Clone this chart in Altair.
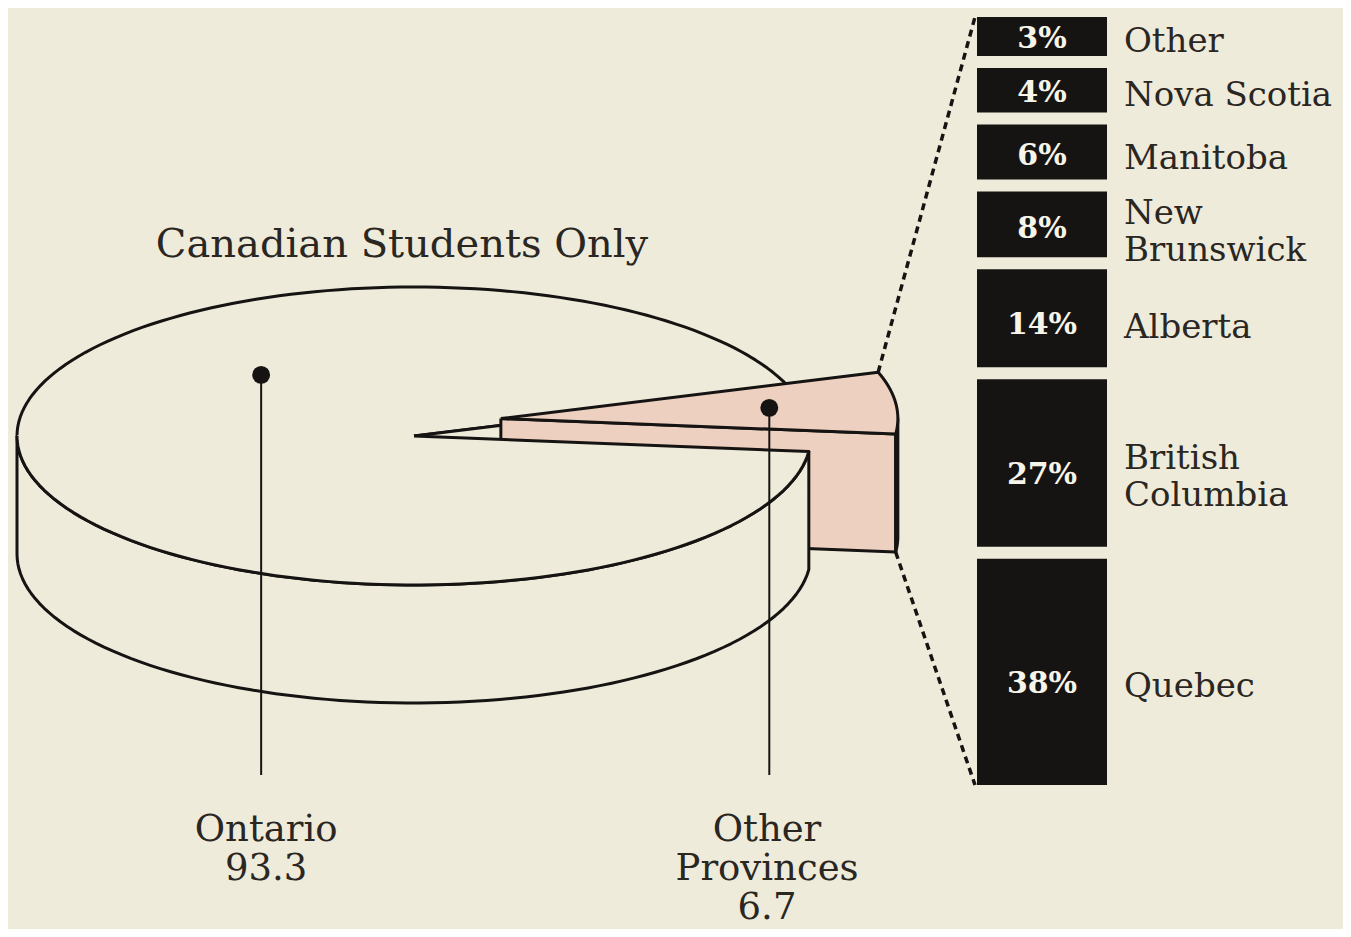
import math
import pandas as pd
import altair as alt

# ---------------- data ----------------
main_labels = ["Ontario", "Other Provinces"]
main_values = [93.3, 6.7]
main_value_text = ["93.3", "6.7"]

# provinces, listed from the bottom of the column to the top
prov_names = ["Quebec", "British Columbia", "Alberta", "New Brunswick",
              "Manitoba", "Nova Scotia", "Other"]
prov_pct = [38, 27, 14, 8, 6, 4, 3]
title_text = "Canadian Students Only"

# ---------------- style / layout ----------------
BG = "#efebdb"
INK = "#161412"
TXT = "#2a2622"
PINK = "#eed0c0"
CREAM = "#efebdb"
SERIF = "DejaVu Serif"

W, H = 1335, 921
X0, Y0 = 8, 8
XS = alt.Scale(domain=[X0, X0 + W], nice=False, zero=False)
YS = alt.Scale(domain=[Y0, Y0 + H], nice=False, zero=False, reverse=True)
X = lambda f: alt.X(f, type="quantitative", axis=None, scale=XS)
Y = lambda f: alt.Y(f, type="quantitative", axis=None, scale=YS)

# pie geometry (screen ellipse)
CX, CY, RX, RY, DEPTH = 414, 436, 397, 149, 118
total = sum(main_values)
span = 360.0 * main_values[1] / total      # angle of the "other provinces" slice
A1 = -6.0
A2 = A1 + span
MID = (A1 + A2) / 2
EXPLODE = 0.22
LIFT = 14
OX = EXPLODE * RX * math.cos(math.radians(MID))
OY = -EXPLODE * RY * math.sin(math.radians(MID)) - LIFT


def pt(t, ox=0.0, oy=0.0, z=0.0):
    r = math.radians(t)
    return (CX + ox + RX * math.cos(r), CY + oy - RY * math.sin(r) + z)


def arc(t0, t1, ox=0.0, oy=0.0, z=0.0, n=90):
    return [pt(t0 + (t1 - t0) * i / n, ox, oy, z) for i in range(n + 1)]


def path_layer(pts, fill=None, stroke=INK, sw=3.0, dash=None, close=False):
    pts = list(pts)
    if close:
        pts = pts + [pts[0]]
    df = pd.DataFrame({"x": [p[0] for p in pts], "y": [p[1] for p in pts],
                       "i": list(range(len(pts)))})
    kw = dict(interpolate="linear", strokeJoin="round", strokeCap="butt")
    if fill is not None:
        kw["fill"] = fill
        kw["stroke"] = fill
        kw["strokeWidth"] = 1
    else:
        kw["stroke"] = stroke
        kw["strokeWidth"] = sw
        kw["fillOpacity"] = 0
    if dash is not None:
        kw["strokeDash"] = dash
    return alt.Chart(df).mark_line(**kw).encode(x=X("x"), y=Y("y"), order="i:Q")


def face(pts, fill, sw=3.0, outline=None):
    layers = [path_layer(pts, fill=fill)]
    if outline is None:
        layers.append(path_layer(pts, stroke=INK, sw=sw, close=True))
    else:
        layers.append(path_layer(outline, stroke=INK, sw=sw))
    return layers


C_top = (CX, CY)
C_bot = (CX, CY + DEPTH)
layers = []

# Ontario: back part of the top face
back_top = [C_top] + arc(A2, 180)
layers += face(back_top, CREAM, outline=[C_top] + arc(A2, 180))
# Ontario: cut wall at A2 (visible through the gap)
wall2 = [C_top, pt(A2), pt(A2, z=DEPTH), C_bot]
layers += face(wall2, CREAM)

# exploded slice (other provinces)
S_top = (CX + OX, CY + OY)
S_bot = (CX + OX, CY + OY + DEPTH)
s_wall = [S_top, pt(A1, OX, OY), pt(A1, OX, OY, DEPTH), S_bot]
layers += face(s_wall, PINK)
s_side = arc(A1, 0, OX, OY, 0, 20) + arc(0, A1, OX, OY, DEPTH, 20)
layers += face(s_side, PINK)
s_top = [S_top] + arc(A1, A2, OX, OY)
layers += face(s_top, PINK)

# Ontario: front side and front part of the top face
side = arc(180, 360 + A1) + arc(360 + A1, 180, z=DEPTH)
layers += face(side, CREAM)
front_top = [C_top] + arc(180, 360 + A1)
layers += face(front_top, CREAM, outline=arc(180, 360 + A1) + [C_top])

# dots and leader lines
LEADER_END = 775
dot_ont = (CX - 0.385 * RX, CY - 0.41 * RY)
dot_oth = (S_top[0] + 0.68 * RX * math.cos(math.radians(MID)),
           S_top[1] - 0.68 * RY * math.sin(math.radians(MID)))
for d in (dot_ont, dot_oth):
    layers.append(path_layer([d, (d[0], LEADER_END)], stroke=INK, sw=2))
dots = pd.DataFrame({"x": [dot_ont[0], dot_oth[0]], "y": [dot_ont[1], dot_oth[1]],
                     "label": main_labels})
layers.append(alt.Chart(dots).mark_circle(size=320, color=INK, opacity=1)
              .encode(x=X("x"), y=Y("y")))

# ---------------- breakdown column ----------------
BAR_X0, BAR_X1 = 977, 1107
BAR_TOP, BAR_BOT = 17, 785
BASE, GAP = 23, 12
k = (BAR_BOT - BAR_TOP - 7 * BASE - 6 * GAP) / sum(prov_pct)
rows = []
y = BAR_TOP
for name, v in zip(prov_names[::-1], prov_pct[::-1]):
    h = BASE + k * v
    off = min(12.0, 0.07 * h)
    rows.append({"name": name, "pct": f"{v}%", "x0": BAR_X0, "x1": BAR_X1,
                 "xc": (BAR_X0 + BAR_X1) / 2,
                 "y0": y, "y1": y + h, "yp": y + h / 2 + off, "yl": y + h / 2 + off + 3})
    y += h + GAP
bars = pd.DataFrame(rows)
layers.append(alt.Chart(bars).mark_rect(color=INK)
              .encode(x=X("x0"), x2="x1", y=Y("y0"), y2="y1"))
layers.append(alt.Chart(bars).mark_text(font=SERIF, fontSize=30, fontWeight="bold",
                                        color="#f7f4ea", align="center", baseline="middle")
              .encode(x=X("xc"), y=Y("yp"), text="pct:N"))

# province names (two-word names wrap like the original)
wrap = {"New Brunswick": ["New", "Brunswick"], "British Columbia": ["British", "Columbia"]}
LH = 37
lab = []
for r in rows:
    parts = wrap.get(r["name"], [r["name"]])
    n = len(parts)
    for j, p in enumerate(parts):
        lab.append({"x": 1124, "y": r["yl"] + (j - (n - 1) / 2) * LH, "t": p})
layers.append(alt.Chart(pd.DataFrame(lab)).mark_text(font=SERIF, fontSize=34, color=TXT,
                                                      align="left", baseline="middle")
              .encode(x=X("x"), y=Y("y"), text="t:N"))

# dashed connectors from the slice to the column
top_tip = pt(A2, OX, OY)
bot_tip = pt(A1, OX, OY, DEPTH)
layers.append(path_layer([top_tip, (BAR_X0 - 2, BAR_TOP)], stroke=INK, sw=3.5, dash=[7, 5]))
layers.append(path_layer([bot_tip, (BAR_X0 - 2, BAR_BOT)], stroke=INK, sw=3.5, dash=[7, 5]))

# ---------------- texts ----------------
title_df = pd.DataFrame({"x": [402], "y": [245], "t": [title_text]})
layers.append(alt.Chart(title_df).mark_text(font=SERIF, fontSize=40, color=TXT,
                                            align="center", baseline="middle")
              .encode(x=X("x"), y=Y("y"), text="t:N"))

blines = []
ont_lines = ["Ontario", main_value_text[0]]
oth_lines = ["Other", "Provinces", main_value_text[1]]
BLH = 39
for j, t in enumerate(ont_lines):
    blines.append({"x": dot_ont[0] + 5, "y": 830 + j * BLH, "t": t})
for j, t in enumerate(oth_lines):
    blines.append({"x": 767, "y": 830 + j * BLH, "t": t})
layers.append(alt.Chart(pd.DataFrame(blines)).mark_text(font=SERIF, fontSize=37, color=TXT,
                                                         align="center", baseline="middle")
              .encode(x=X("x"), y=Y("y"), text="t:N"))

chart = alt.layer(*layers).properties(
    width=W, height=H, padding=0, autosize=alt.AutoSizeParams(type="none")
).configure(background=BG).configure_view(stroke=None)

chart.save("out.html", embed_options={"renderer": "svg", "actions": False})
